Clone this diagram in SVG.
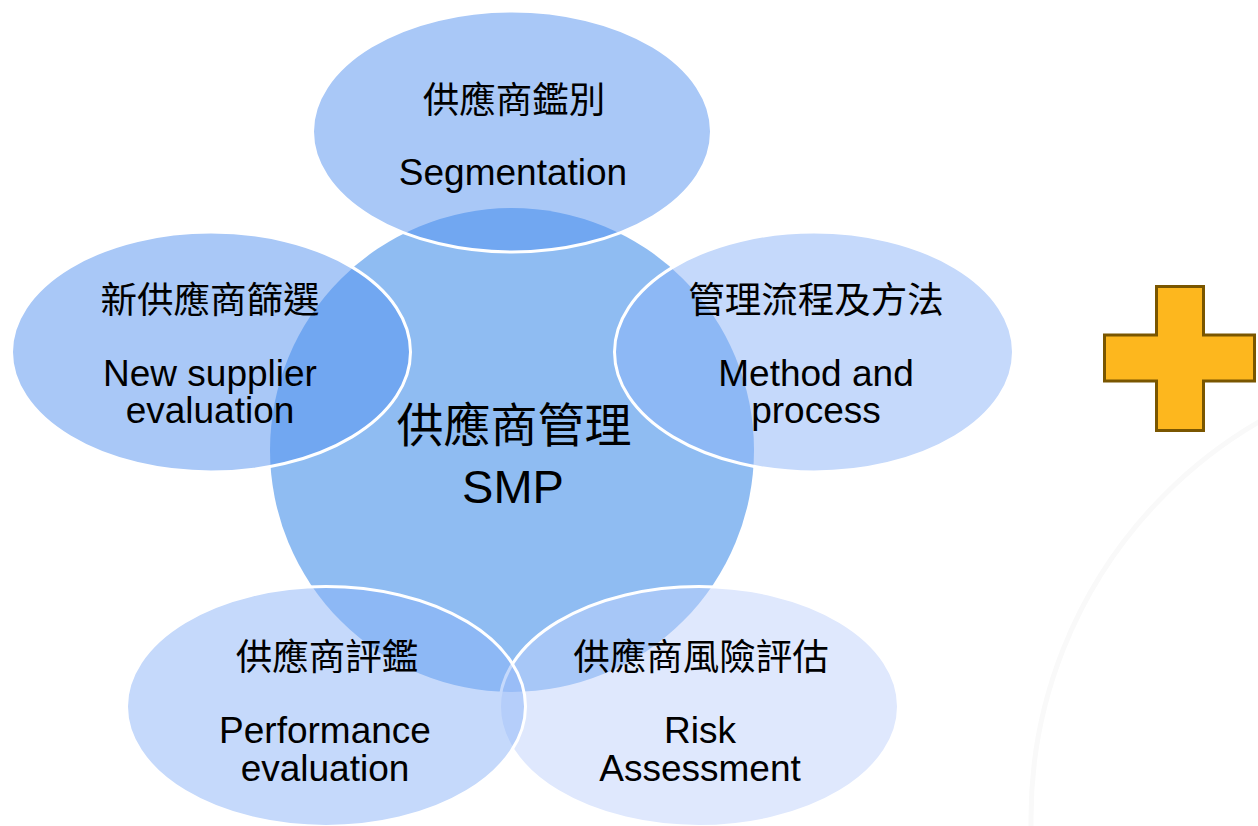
<svg xmlns="http://www.w3.org/2000/svg" width="1258" height="826" viewBox="0 0 1258 826">
  <style>
    .cjk { font-family: "Noto Sans CJK TC", "Noto Sans CJK SC", sans-serif; font-size: 36.5px; fill: #000; text-anchor: middle; }
    .cjkL { font-family: "Noto Sans CJK TC", "Noto Sans CJK SC", sans-serif; font-size: 47px; fill: #000; text-anchor: middle; }
    .en { font-family: "Liberation Sans", Arial, sans-serif; font-size: 37px; fill: #000; text-anchor: middle; }
    .enL { font-family: "Liberation Sans", Arial, sans-serif; font-size: 47px; fill: #000; text-anchor: middle; }
    .ell { stroke: #ffffff; stroke-width: 3; fill-opacity: 0.5; }
    .c1 { fill: #5391EF; }
    .c2 { fill: #8BB3F7; }
    .c3 { fill: #BFD1FB; }
  </style>
  <rect width="1258" height="826" fill="#ffffff"/>
  <circle cx="1489" cy="818" r="458" fill="none" stroke="#f9f9f9" stroke-width="5"/>
  <g id="connectors"/>
  <g id="center">
    <circle cx="512" cy="450" r="242" fill="#8FBCF2"/>
  </g>
  <g id="segmentation">
    <ellipse class="ell c1" cx="512" cy="131.5" rx="199.5" ry="120.5"/>
    <text class="cjk" x="514" y="113">供應商鑑別</text>
    <text class="en" x="513" y="185">Segmentation</text>
  </g>
  <g id="method">
    <ellipse class="ell c2" cx="814" cy="352" rx="199.5" ry="120"/>
    <text class="cjk" x="816" y="313">管理流程及方法</text>
    <text class="en" x="816" y="386">Method and</text>
    <text class="en" x="816" y="423">process</text>
  </g>
  <g id="risk">
    <ellipse class="ell c3" cx="699" cy="706.5" rx="199.5" ry="120"/>
    <text class="cjk" x="701" y="670">供應商風險評估</text>
    <text class="en" x="700" y="743">Risk</text>
    <text class="en" x="700" y="781">Assessment</text>
  </g>
  <g id="performance">
    <ellipse class="ell c2" cx="326" cy="706.5" rx="199.5" ry="120"/>
    <text class="cjk" x="327" y="670">供應商評鑑</text>
    <text class="en" x="325" y="743">Performance</text>
    <text class="en" x="325" y="781">evaluation</text>
  </g>
  <g id="newsupplier">
    <ellipse class="ell c1" cx="211" cy="352" rx="199.5" ry="120"/>
    <text class="cjk" x="210" y="313">新供應商篩選</text>
    <text class="en" x="210" y="386">New supplier</text>
    <text class="en" x="210" y="423">evaluation</text>
  </g>
  <g id="center-label">
    <text class="cjkL" x="514" y="442">供應商管理</text>
    <text class="enL" x="513" y="503">SMP</text>
  </g>
  <g id="plus">
    <polygon points="1156.5,286.5 1203.5,286.5 1203.5,335 1254.5,335 1254.5,381 1203.5,381 1203.5,430.5 1156.5,430.5 1156.5,381 1104.5,381 1104.5,335 1156.5,335" fill="#FDB71E" stroke="#7A5600" stroke-width="3"/>
  </g>
</svg>
